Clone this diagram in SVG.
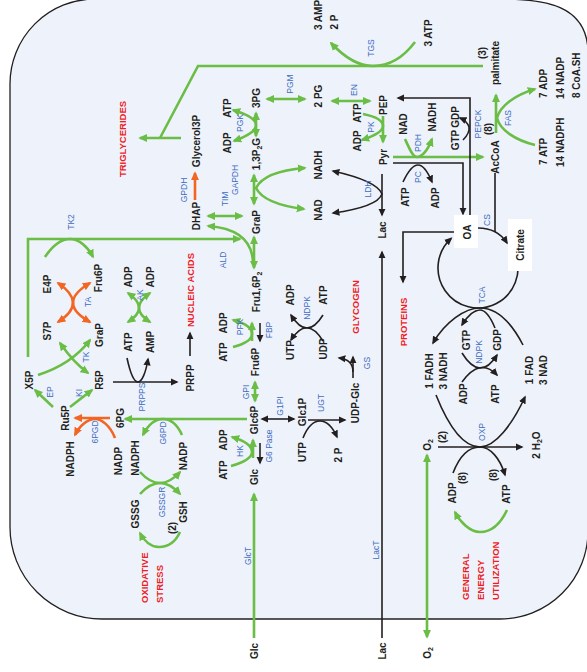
<svg xmlns="http://www.w3.org/2000/svg" width="587" height="672" viewBox="0 0 587 672">
<defs>
<style>
.g{fill:none;stroke:#6abd45;stroke-width:2.6}
.k{fill:none;stroke:#231f20;stroke-width:1.6}
.o{fill:none;stroke:#f26522;stroke-width:2.6}
text{font-family:"Liberation Sans",Arial,sans-serif;text-anchor:middle;dominant-baseline:central}
.t{font-size:10px;font-weight:bold;fill:#231f20}
.ts{font-size:10px;font-weight:bold;fill:#231f20;text-anchor:start}
.r{font-size:9.5px;font-weight:bold;fill:#ee1c25}
.rs{font-size:9.5px;font-weight:bold;fill:#ee1c25;text-anchor:start}
.e{font-size:8.5px;fill:#3d6cc4}
.box{fill:#ffffff;stroke:none}
</style>
<marker id="ag" viewBox="0 0 10 10" refX="8" refY="5" markerWidth="9" markerHeight="9" markerUnits="userSpaceOnUse" orient="auto-start-reverse"><path d="M0,0.5 L10,5 L0,9.5 z" fill="#6abd45"/></marker>
<marker id="ak" viewBox="0 0 10 10" refX="8" refY="5" markerWidth="8" markerHeight="8" markerUnits="userSpaceOnUse" orient="auto-start-reverse"><path d="M0,0.5 L10,5 L0,9.5 z" fill="#231f20"/></marker>
<marker id="ao" viewBox="0 0 10 10" refX="8" refY="5" markerWidth="9" markerHeight="9" markerUnits="userSpaceOnUse" orient="auto-start-reverse"><path d="M0,0.5 L10,5 L0,9.5 z" fill="#f26522"/></marker>
</defs>
<rect x="0" y="0" width="587" height="672" fill="#ffffff"/>
<path id="cell" d="M 10,84 A 85 85 0 0 1 95,-1 L 500,-1 C 545,-1 586,5 588,50 L 588,531 A 88 88 0 0 1 500,619 L 102,619 A 92 92 0 0 1 10,527 Z" fill="#eef2fa" stroke="#231f20" stroke-width="1.3"/>

<g id="connectors">
<path class="g" d="M 483,66 L 198,66 L 160,138"/>
<path class="g" d="M 181,138 L 140,138" marker-end="url(#ag)"/>
<path class="g" d="M 415,42 C 400,62 385,66 373,66 C 360,66 345,58 331,43" marker-end="url(#ag)"/>
<path class="g" d="M 267,99 L 305,99" marker-start="url(#ag)" marker-end="url(#ag)"/>
<path class="g" d="M 256,113 L 256,136" marker-start="url(#ag)" marker-end="url(#ag)"/>
<path class="g" d="M 233,110 Q 256,117 256,125 Q 256,133 234,141" marker-start="url(#ag)" marker-end="url(#ag)"/>
<path class="g" d="M 332,101 L 370,101" marker-start="url(#ag)" marker-end="url(#ag)"/>
<path class="g" d="M 383,116 L 383,142" marker-end="url(#ag)"/>
<path class="g" d="M 363,114 Q 383,118 383,126 Q 383,133 362,140" marker-end="url(#ag)"/>
<path class="g" d="M 254,175 L 254,204" marker-start="url(#ag)" marker-end="url(#ag)"/>
<path class="g" d="M 305,168 C 280,170 262,176 256,188 C 262,200 280,206 304,209" marker-start="url(#ag)" marker-end="url(#ag)"/>
<path class="g" d="M 208,216 L 242,216" marker-start="url(#ag)" marker-end="url(#ag)"/>
<path class="g" d="M 208,226 C 235,228 252,238 253,262" marker-start="url(#ag)"/>
<path class="g" d="M 254,237 L 254,268" marker-start="url(#ag)" marker-end="url(#ag)"/>
<path class="g" d="M 28,357 L 28,239 L 240,239" marker-end="url(#ag)"/>
<path class="g" d="M 45,257 C 55,242 63,239 70,239 C 79,239 88,247 93,257" marker-end="url(#ag)"/>
<path class="g" d="M 38,375 Q 72,364 90,340" marker-end="url(#ag)"/>
<path class="g" d="M 60,343 Q 74,363 88,373" marker-start="url(#ag)" marker-end="url(#ag)"/>
<path class="g" d="M 53,407 L 35,390" marker-end="url(#ag)"/>
<path class="g" d="M 70,407 L 92,390" marker-end="url(#ag)"/>
<path class="g" d="M 128,293 Q 150,308 128,322" marker-start="url(#ag)" marker-end="url(#ag)"/>
<path class="g" d="M 150,293 Q 128,308 150,322" marker-start="url(#ag)" marker-end="url(#ag)"/>
<path class="g" d="M 247,419 L 125,419" marker-end="url(#ag)"/>
<path class="g" d="M 182,435 C 177,424 170,419 163,419 C 155,419 148,425 143,435" marker-end="url(#ag)"/>
<path class="g" d="M 140,472 Q 160,494 180,472" marker-end="url(#ag)"/>
<path class="g" d="M 140,494 Q 160,472 180,494" marker-end="url(#ag)"/>
<path class="g" d="M 180,532 C 175,543 167,547 159,547 C 151,547 144,541 140,533" marker-end="url(#ag)"/>
<path class="g" d="M 252,341 L 252,323" marker-end="url(#ag)"/>
<path class="g" d="M 233,347 Q 252,342 252,334 Q 252,325 233,320" marker-end="url(#ag)"/>
<path class="g" d="M 255,382 L 255,401" marker-start="url(#ag)" marker-end="url(#ag)"/>
<path class="g" d="M 253,458 L 253,440" marker-end="url(#ag)"/>
<path class="g" d="M 231,466 Q 252,460 252,452 Q 252,443 232,437" marker-end="url(#ag)"/>
<path class="g" d="M 254,638 L 254,494" marker-end="url(#ag)"/>
<path class="g" d="M 427,637 L 427,455" marker-start="url(#ag)" marker-end="url(#ag)"/>
<path class="g" d="M 393,157 L 483,157" marker-end="url(#ag)"/>
<path class="g" d="M 405,139 C 410,150 413,157 417,157 C 422,157 428,150 432,139" marker-end="url(#ag)"/>
<path class="g" d="M 496,133 L 496,95" marker-end="url(#ag)"/>
<path class="g" d="M 535,145 C 515,140 500,130 497,118 C 500,106 515,95 535,89" marker-end="url(#ag)"/>
<path class="g" d="M 507,510 C 500,525 490,532 480,532 C 470,532 460,522 455,512" marker-end="url(#ag)"/>
<path class="o" d="M 195,200 L 195,173" marker-end="url(#ao)"/>
<path class="o" d="M 58,283 Q 88,303 58,322" marker-start="url(#ao)" marker-end="url(#ao)"/>
<path class="o" d="M 90,283 Q 56,303 90,322" marker-start="url(#ao)" marker-end="url(#ao)"/>
<path class="o" d="M 110,418 L 75,418" marker-end="url(#ao)"/>
<path class="o" d="M 115,438 C 110,425 101,419 95,419 C 88,419 80,425 75,435" marker-end="url(#ao)"/>
<path class="k" d="M 382,174 L 382,215" marker-end="url(#ak)"/>
<path class="k" d="M 333,171 C 355,176 378,183 382,194 C 378,205 355,210 333,213" marker-start="url(#ak)" marker-end="url(#ak)"/>
<path class="k" d="M 393,163 L 463,163 L 463,214" marker-end="url(#ak)"/>
<path class="k" d="M 403,182 Q 411,165 418,165 Q 425,165 432,182" marker-end="url(#ak)"/>
<path class="k" d="M 470,217 L 470,98 L 398,98" marker-end="url(#ak)"/>
<path class="k" d="M 463,140 Q 470,133 469,127 Q 467,121 460,118" marker-end="url(#ak)"/>
<path class="k" d="M 495,173 L 495,232"/>
<path class="k" d="M 515.6,254.3 A 40 40 0 1 1 451.2,238.3" marker-end="url(#ak)"/>
<path class="k" d="M 478,228 C 490,228 500,232 507,243" marker-end="url(#ak)"/>
<path class="k" d="M 454,232 L 403,232 L 403,282" marker-end="url(#ak)"/>
<path class="k" d="M 382,638 L 382,252" marker-end="url(#ak)"/>
<path class="k" d="M 523,345 C 510,320 495,308 480,308 C 465,308 445,322 433,343" marker-end="url(#ak)"/>
<path class="k" d="M 495,328 C 490,316 485,310 480,310 C 475,310 468,315 462,325" marker-end="url(#ak)"/>
<path class="k" d="M 462,353 Q 480,382 497,355" marker-end="url(#ak)"/>
<path class="k" d="M 462,382 Q 480,357 497,375" marker-end="url(#ak)"/>
<path class="k" d="M 438,447 L 522,447" marker-end="url(#ak)"/>
<path class="k" d="M 436,395 C 450,430 465,447 480,447 C 495,447 512,425 525,397" marker-end="url(#ak)"/>
<path class="k" d="M 453,473 C 460,455 470,447 480,447 C 490,447 500,458 505,475" marker-end="url(#ak)"/>
<path class="k" d="M 113,382 L 177,382" marker-end="url(#ak)"/>
<path class="k" d="M 127,358 C 130,372 134,382 138,382 C 142,382 146,372 148,359" marker-end="url(#ak)"/>
<path class="k" d="M 190,356 L 190,333" marker-end="url(#ak)"/>
<path class="k" d="M 260,323 L 260,341" marker-end="url(#ak)"/>
<path class="k" d="M 260,443 L 260,463" marker-end="url(#ak)"/>
<path class="k" d="M 262,419 L 294,419" marker-start="url(#ak)" marker-end="url(#ak)"/>
<path class="k" d="M 308,420 L 345,420" marker-end="url(#ak)"/>
<path class="k" d="M 303,438 C 307,428 313,421 320,421 C 327,421 333,428 337,437" marker-end="url(#ak)"/>
<path class="k" d="M 323,315 Q 307,341 291,315" marker-end="url(#ak)"/>
<path class="k" d="M 323,341 Q 307,315 291,340" marker-end="url(#ak)"/>
<path class="k" d="M 353,378 L 353,357" marker-end="url(#ak)"/>
<path class="k" d="M 353,372 C 353,363 348,359 339,358" marker-end="url(#ak)"/>
</g>

<g id="boxes">
<rect class="box" x="454" y="215" width="24" height="33"/>
<rect class="box" x="508" y="219" width="24" height="52"/>
</g>

<g id="enzyme-labels">
<text class="e" transform="translate(371 48) rotate(-90)">TGS</text>
<text class="e" transform="translate(290 84) rotate(-90)">PGM</text>
<text class="e" transform="translate(354 90) rotate(-90)">EN</text>
<text class="e" transform="translate(240 123) rotate(-90)">PGK</text>
<text class="e" transform="translate(371 127) rotate(-90)">PK</text>
<text class="e" transform="translate(418 143) rotate(-90)">PDH</text>
<text class="e" transform="translate(418 177) rotate(-90)">PC</text>
<text class="e" transform="translate(478 124) rotate(-90)">PEPCK</text>
<text class="e" transform="translate(508 118) rotate(-90)">FAS</text>
<text class="e" transform="translate(184 190) rotate(-90)">GPDH</text>
<text class="e" transform="translate(235 180) rotate(-90)">GAPDH</text>
<text class="e" transform="translate(225 199) rotate(-90)">TIM</text>
<text class="e" transform="translate(368 189) rotate(-90)">LDH</text>
<text class="e" transform="translate(487 220) rotate(-90)">CS</text>
<text class="e" transform="translate(71 222) rotate(-90)">TK2</text>
<text class="e" transform="translate(223 260) rotate(-90)">ALD</text>
<text class="e" transform="translate(88 302) rotate(-90)">TA</text>
<text class="e" transform="translate(140 295) rotate(-90)">AK</text>
<text class="e" transform="translate(86 357) rotate(-90)">TK</text>
<text class="e" transform="translate(50 392) rotate(-90)">EP</text>
<text class="e" transform="translate(79 393) rotate(-90)">KI</text>
<text class="e" transform="translate(142 397) rotate(-90)">PRPPS</text>
<text class="e" transform="translate(95 432) rotate(-90)">6PGD</text>
<text class="e" transform="translate(163 433) rotate(-90)">G6PD</text>
<text class="e" transform="translate(162 502) rotate(-90)">GSSGR</text>
<text class="e" transform="translate(240 327) rotate(-90)">PFK</text>
<text class="e" transform="translate(269 330) rotate(-90)">FBP</text>
<text class="e" transform="translate(307 308) rotate(-90)">NDPK</text>
<text class="e" transform="translate(367 363) rotate(-90)">GS</text>
<text class="e" transform="translate(246 392) rotate(-90)">GPI</text>
<text class="e" transform="translate(280 406) rotate(-90)">G1PI</text>
<text class="e" transform="translate(321 403) rotate(-90)">UGT</text>
<text class="e" transform="translate(240 451) rotate(-90)">HK</text>
<text class="e" transform="translate(269 446) rotate(-90)">G6 Pase</text>
<text class="e" transform="translate(248 556) rotate(-90)">GlcT</text>
<text class="e" transform="translate(376 550) rotate(-90)">LacT</text>
<text class="e" transform="translate(482 295) rotate(-90)">TCA</text>
<text class="e" transform="translate(479 352) rotate(-90)">NDPK</text>
<text class="e" transform="translate(482 432) rotate(-90)">OXP</text>
</g>

<g id="nodes">
<g id="n-3amp"><text class="t" transform="translate(318 15) rotate(-90)">3 AMP</text></g>
<g id="n-2p-top"><text class="t" transform="translate(334 22) rotate(-90)">2 P</text></g>
<g id="n-3atp"><text class="t" transform="translate(428 33) rotate(-90)">3 ATP</text></g>
<g id="n-3"><text class="t" transform="translate(482 53) rotate(-90)">(3)</text></g>
<g id="n-palmitate"><text class="t" transform="translate(495 63) rotate(-90)">palmitate</text></g>
<g id="n-fas-out"><text class="ts" transform="translate(543 98) rotate(-90)">7 ADP</text><text class="ts" transform="translate(560 99) rotate(-90)">14 NADP</text><text class="ts" transform="translate(576 98) rotate(-90)">8 CoA.SH</text></g>
<g id="n-fas-in"><text class="ts" transform="translate(543 165) rotate(-90)">7 ATP</text><text class="ts" transform="translate(560 167) rotate(-90)">14 NADPH</text></g>
<g id="n-glycerol3p"><text class="t" transform="translate(196 141) rotate(-90)">Glycerol3P</text></g>
<g id="n-dhap"><text class="t" transform="translate(196 216) rotate(-90)">DHAP</text></g>
<g id="n-pgk"><text class="t" transform="translate(227 108) rotate(-90)">ATP</text><text class="t" transform="translate(227 143) rotate(-90)">ADP</text></g>
<g id="n-3pg"><text class="t" transform="translate(256 98) rotate(-90)">3PG</text></g>
<g id="n-13p2g"><text class="t" transform="translate(256 154) rotate(-90)">1,3P<tspan baseline-shift="sub" font-size="7">2</tspan>G</text></g>
<g id="n-2pg"><text class="t" transform="translate(318 96) rotate(-90)">2 PG</text></g>
<g id="n-pep"><text class="t" transform="translate(383 105) rotate(-90)">PEP</text></g>
<g id="n-pk"><text class="t" transform="translate(357 113) rotate(-90)">ATP</text><text class="t" transform="translate(357 141) rotate(-90)">ADP</text></g>
<g id="n-pyr"><text class="t" transform="translate(383 157) rotate(-90)">Pyr</text></g>
<g id="n-gapdh"><text class="t" transform="translate(318 165) rotate(-90)">NADH</text><text class="t" transform="translate(318 210) rotate(-90)">NAD</text></g>
<g id="n-pdh"><text class="t" transform="translate(403 124) rotate(-90)">NAD</text><text class="t" transform="translate(432 117) rotate(-90)">NADH</text></g>
<g id="n-pepck"><text class="t" transform="translate(455 140) rotate(-90)">GTP</text><text class="t" transform="translate(455 117) rotate(-90)">GDP</text><text class="t" transform="translate(488 129) rotate(-90)">(8)</text></g>
<g id="n-accoa"><text class="t" transform="translate(495 157) rotate(-90)">AcCoA</text></g>
<g id="n-pc"><text class="t" transform="translate(405 197) rotate(-90)">ATP</text><text class="t" transform="translate(435 198) rotate(-90)">ADP</text></g>
<g id="n-lac-in"><text class="t" transform="translate(382 230) rotate(-90)">Lac</text></g>
<g id="n-grap"><text class="t" transform="translate(256 222) rotate(-90)">GraP</text></g>
<g id="n-fru16p2"><text class="t" transform="translate(256 292) rotate(-90)">Fru1,6P<tspan baseline-shift="sub" font-size="7">2</tspan></text></g>
<g id="n-pfk"><text class="t" transform="translate(223 352) rotate(-90)">ATP</text><text class="t" transform="translate(223 323) rotate(-90)">ADP</text></g>
<g id="n-fru6p"><text class="t" transform="translate(255 362) rotate(-90)">Fru6P</text></g>
<g id="n-glc6p"><text class="t" transform="translate(254 420) rotate(-90)">Glc6P</text></g>
<g id="n-hk"><text class="t" transform="translate(223 470) rotate(-90)">ATP</text><text class="t" transform="translate(223 440) rotate(-90)">ADP</text></g>
<g id="n-glc-in"><text class="t" transform="translate(254 477) rotate(-90)">Glc</text></g>
<g id="n-glc1p"><text class="t" transform="translate(302 412) rotate(-90)">Glc1P</text></g>
<g id="n-ugt"><text class="t" transform="translate(302 452) rotate(-90)">UTP</text><text class="t" transform="translate(338 455) rotate(-90)">2 P</text></g>
<g id="n-udpglc"><text class="t" transform="translate(355 403) rotate(-90)">UDP-Glc</text></g>
<g id="n-ndpk1"><text class="t" transform="translate(290 295) rotate(-90)">ADP</text><text class="t" transform="translate(323 295) rotate(-90)">ATP</text><text class="t" transform="translate(290 350) rotate(-90)">UTP</text><text class="t" transform="translate(323 349) rotate(-90)">UDP</text></g>
<g id="n-e4p"><text class="t" transform="translate(47 284) rotate(-90)">E4P</text></g>
<g id="n-fru6p-ppp"><text class="t" transform="translate(98 278) rotate(-90)">Fru6P</text></g>
<g id="n-s7p"><text class="t" transform="translate(47 331) rotate(-90)">S7P</text></g>
<g id="n-grap-ppp"><text class="t" transform="translate(99 335) rotate(-90)">GraP</text></g>
<g id="n-x5p"><text class="t" transform="translate(29 380) rotate(-90)">X5P</text></g>
<g id="n-r5p"><text class="t" transform="translate(99 380) rotate(-90)">R5P</text></g>
<g id="n-ru5p"><text class="t" transform="translate(65 418) rotate(-90)">Ru5P</text></g>
<g id="n-6pg"><text class="t" transform="translate(120 418) rotate(-90)">6PG</text></g>
<g id="n-6pgd"><text class="t" transform="translate(70 459) rotate(-90)">NADPH</text><text class="t" transform="translate(118 461) rotate(-90)">NADP</text></g>
<g id="n-g6pd"><text class="t" transform="translate(135 458) rotate(-90)">NADPH</text><text class="t" transform="translate(183 456) rotate(-90)">NADP</text></g>
<g id="n-gssg"><text class="t" transform="translate(135 514) rotate(-90)">GSSG</text></g>
<g id="n-gsh"><text class="t" transform="translate(183 512) rotate(-90)">GSH</text><text class="t" transform="translate(172 528) rotate(-90)">(2)</text></g>
<g id="n-ak"><text class="t" transform="translate(128 342) rotate(-90)">ATP</text><text class="t" transform="translate(150 342) rotate(-90)">AMP</text><text class="t" transform="translate(128 277) rotate(-90)">ADP</text><text class="t" transform="translate(150 277) rotate(-90)">ADP</text></g>
<g id="n-prpp"><text class="t" transform="translate(190 378) rotate(-90)">PRPP</text></g>
<g id="n-oa"><text class="t" transform="translate(467 232) rotate(-90)">OA</text></g>
<g id="n-citrate"><text class="t" transform="translate(520 245) rotate(-90)">Citrate</text></g>
<g id="n-tca-out"><text class="t" transform="translate(429 371) rotate(-90)">1 FADH</text><text class="t" transform="translate(443 371) rotate(-90)">3 NADH</text></g>
<g id="n-ndpk2"><text class="t" transform="translate(466 340) rotate(-90)">GTP</text><text class="t" transform="translate(497 340) rotate(-90)">GDP</text><text class="t" transform="translate(463 394) rotate(-90)">ADP</text><text class="t" transform="translate(495 394) rotate(-90)">ATP</text></g>
<g id="n-tca-in"><text class="t" transform="translate(529 370) rotate(-90)">1 FAD</text><text class="t" transform="translate(543 370) rotate(-90)">3 NAD</text></g>
<g id="n-oxp"><text class="t" transform="translate(427 445) rotate(-90)">O<tspan baseline-shift="sub" font-size="7">2</tspan></text><text class="t" transform="translate(442 437) rotate(-90)">(2)</text><text class="t" transform="translate(536 445) rotate(-90)">2 H<tspan baseline-shift="sub" font-size="7">2</tspan>O</text><text class="t" transform="translate(452 493) rotate(-90)">ADP</text><text class="t" transform="translate(462 478) rotate(-90)">(8)</text><text class="t" transform="translate(506 494) rotate(-90)">ATP</text><text class="t" transform="translate(493 475) rotate(-90)">(8)</text></g>
<g id="n-glc-out"><text class="t" transform="translate(254 651) rotate(-90)">Glc</text></g>
<g id="n-lac-out"><text class="t" transform="translate(382 651) rotate(-90)">Lac</text></g>
<g id="n-o2-out"><text class="t" transform="translate(427 653) rotate(-90)">O<tspan baseline-shift="sub" font-size="7">2</tspan></text></g>
<g id="n-triglycerides"><text class="r" transform="translate(122 139) rotate(-90)">TRIGLYCERIDES</text></g>
<g id="n-nucleic"><text class="r" transform="translate(190 290) rotate(-90)">NUCLEIC ACIDS</text></g>
<g id="n-glycogen"><text class="r" transform="translate(355 307) rotate(-90)">GLYCOGEN</text></g>
<g id="n-proteins"><text class="r" transform="translate(403 322) rotate(-90)">PROTEINS</text></g>
<g id="n-oxstress"><text class="rs" transform="translate(144 603) rotate(-90)">OXIDATIVE</text><text class="rs" transform="translate(159 603) rotate(-90)">STRESS</text></g>
<g id="n-energy"><text class="rs" transform="translate(465 600) rotate(-90)">GENERAL</text><text class="rs" transform="translate(480 600) rotate(-90)">ENERGY</text><text class="rs" transform="translate(495 600) rotate(-90)">UTILIZATION</text></g>
</g>
</svg>
